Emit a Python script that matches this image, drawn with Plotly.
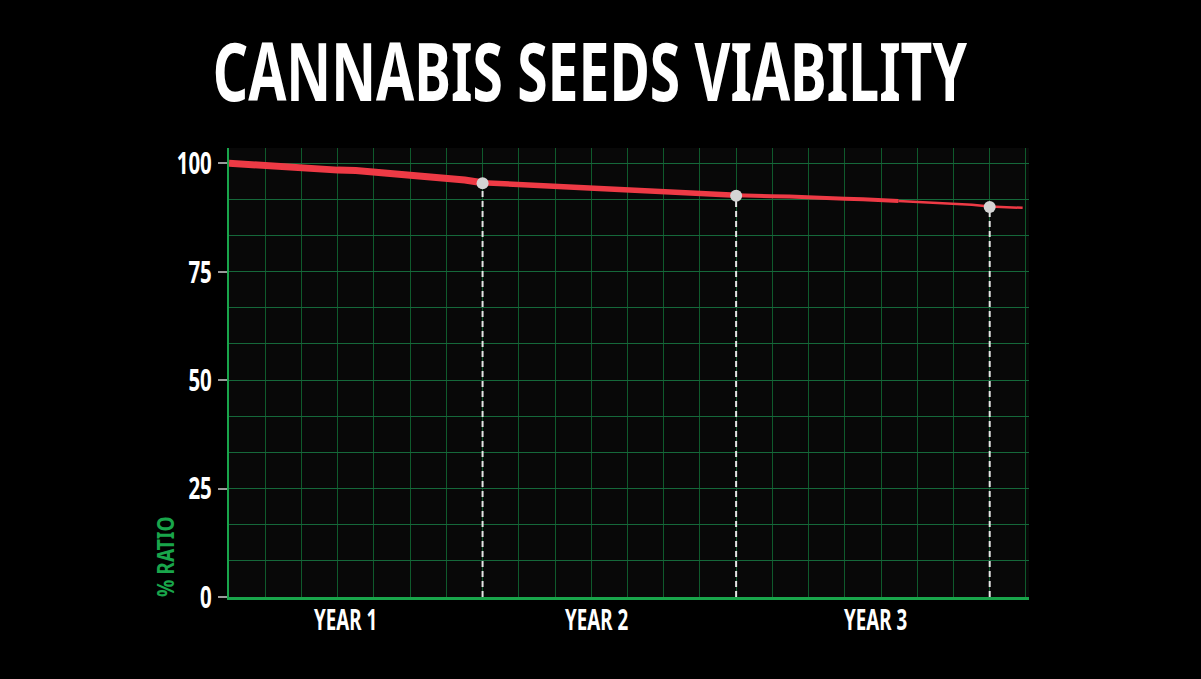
import plotly.graph_objects as go

# viability curve, x in years since storage, y in % germination
years = [0.00, 0.07, 0.14, 0.21, 0.29, 0.36, 0.43, 0.50, 0.57, 0.64, 0.71, 0.79, 0.86, 0.93,
         1.00, 1.07, 1.14, 1.21, 1.29, 1.36, 1.43, 1.50, 1.57, 1.64, 1.71, 1.79, 1.86, 1.93,
         2.00, 2.07, 2.14, 2.21, 2.29, 2.36, 2.43, 2.50, 2.57, 2.64, 2.71, 2.79, 2.86, 2.93,
         3.00, 3.07, 3.13]
viability = [100.0, 99.7, 99.4, 99.2, 98.9, 98.7, 98.4, 98.3, 98.0, 97.7, 97.3, 97.0, 96.6, 96.1,
             95.5, 95.3, 95.2, 95.0, 94.9, 94.7, 94.5, 94.3, 94.1, 93.9, 93.6, 93.4, 93.1, 92.8,
             92.6, 92.6, 92.4, 92.3, 92.2, 92.0, 91.8, 91.7, 91.5, 91.3, 91.1, 90.9, 90.7, 90.4,
             90.0, 89.9, 89.7]

# end-of-year checkpoints
mark_years = [1.0, 2.0, 3.0]
mark_values = [95.4, 92.5, 89.9]

year_labels = ["YEAR 1", "YEAR 2", "YEAR 3"]
year_label_pos = [0.46, 1.45, 2.55]
y_ticks = [0, 25, 50, 75, 100]

RED = "#ee3a45"
GREEN = "#19a54b"
GRID_H = "#15683a"
GRID_V = "#0f5a2c"
FONT = "Noto Sans"

fig = go.Figure()

# drop lines under the checkpoints
for mx, mv in zip(mark_years, mark_values):
    fig.add_trace(go.Scatter(x=[mx, mx], y=[0, mv], mode="lines",
                             line=dict(color="#e6e6e6", width=2, dash="6px,4px"),
                             hoverinfo="skip", showlegend=False))

# the curve gets thinner with time, so draw it in pieces
segments = [(0, 15, 7), (14, 29, 5.5), (28, 38, 4), (37, 45, 2.5)]
for a, b, w in segments:
    fig.add_trace(go.Scatter(x=years[a:b], y=viability[a:b], mode="lines",
                             line=dict(color=RED, width=w),
                             showlegend=False))

fig.add_trace(go.Scatter(x=mark_years, y=mark_values, mode="markers",
                         marker=dict(color="#d4d4d4", size=12),
                         showlegend=False))

fig.update_layout(
    width=1201, height=679,
    paper_bgcolor="black", plot_bgcolor="#080808",
    margin=dict(l=229, r=172, t=148, b=82),
    font=dict(family=FONT, color="white"),
    title=dict(text="CANNABIS SEEDS VIABILITY",
               font=dict(size=80, family=FONT, color="white", weight="bold"),
               x=0.491, xref="container", y=0.892, yref="container",
               xanchor="center", yanchor="middle"),
    showlegend=False,
)

fig.update_xaxes(
    range=[0, 3.155], tickmode="array", tickvals=year_label_pos,
    ticktext=year_labels,
    tickfont=dict(size=28, color="white", family=FONT, weight="bold"),
    ticklabelstandoff=-4,
    ticks="", showgrid=False, zeroline=False,
    showline=True, linecolor=GREEN, linewidth=3,
    minor=dict(tick0=0, dtick=1 / 7, showgrid=True, gridcolor=GRID_V, gridwidth=1),
)

fig.update_yaxes(
    range=[0, 103.5], tickmode="array", tickvals=y_ticks,
    ticktext=[str(v) for v in y_ticks],
    tickfont=dict(size=31, color="white", family=FONT, weight="bold"),
    ticks="outside", ticklen=9, tickwidth=1.5, tickcolor="#9a9a9a",
    showgrid=True, gridcolor=GRID_H, gridwidth=1, zeroline=False,
    showline=True, linecolor=GREEN, linewidth=2,
    minor=dict(tick0=0, dtick=25 / 3, showgrid=True, gridcolor=GRID_H, gridwidth=1),
)

fig.add_annotation(text="% RATIO", textangle=-90, showarrow=False,
                   xref="paper", yref="paper", x=0, y=0.089, xshift=-65,
                   xanchor="center", yanchor="middle",
                   font=dict(size=24, color=GREEN, family=FONT, weight="bold"))

# no condensed faces are installed, so squeeze the text horizontally
page_js = """
document.body.style.margin = '0';
document.body.style.background = 'black';
var st = document.createElement('style');
st.textContent =
  '.gtitle {transform-box: fill-box; transform-origin: 50% 50%; transform: scaleX(0.69);}' +
  ' g.ytick {transform-box: fill-box; transform-origin: 100% 50%; transform: scaleX(0.66);}' +
  ' g.xtick {transform-box: fill-box; transform-origin: 50% 50%; transform: scaleX(0.67);}' +
  ' .annotation-text {transform-box: fill-box; transform-origin: 50% 50%; transform: scaleX(0.8);}';
document.head.appendChild(st);
"""
fig.write_html("out.html", post_script=page_js, config={"displayModeBar": False})
